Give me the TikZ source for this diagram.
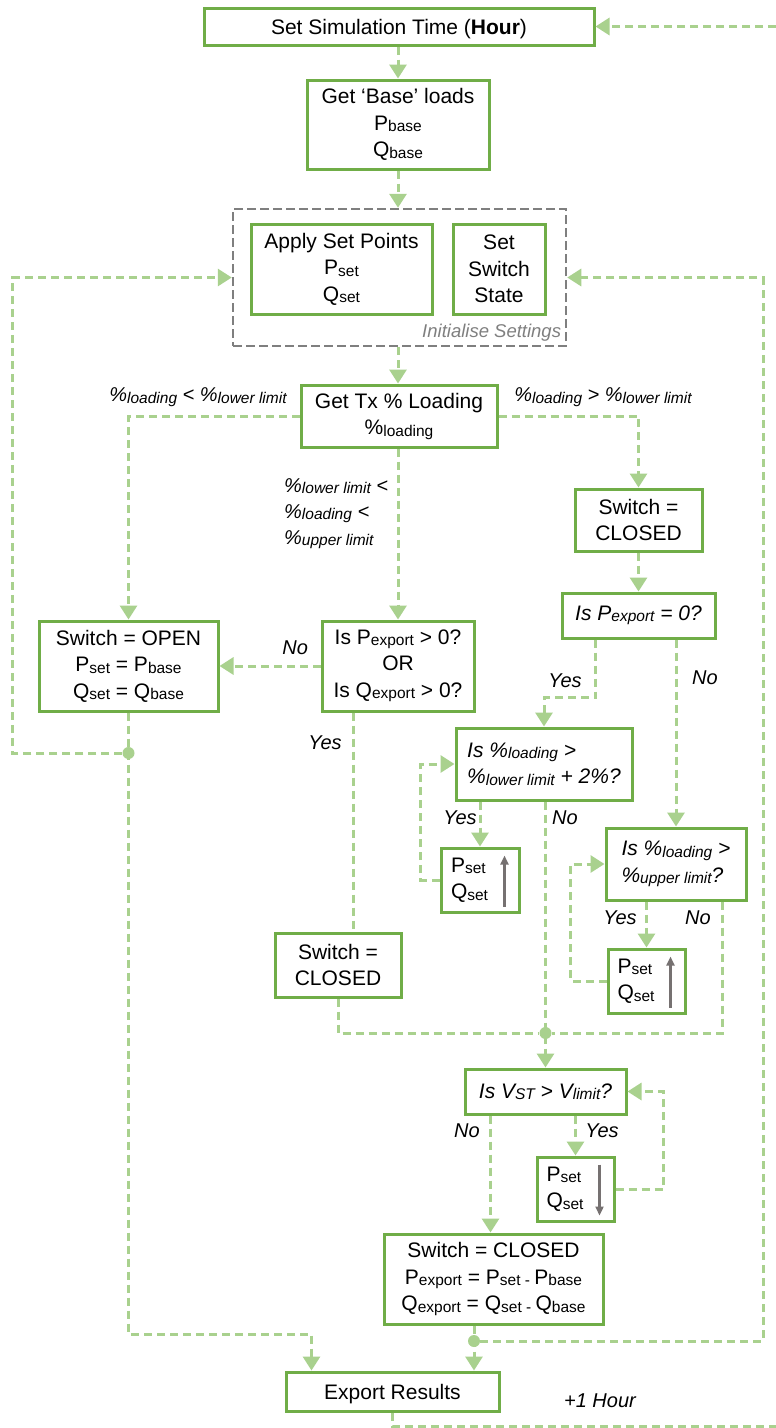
\documentclass[tikz,border=0pt]{standalone}
\usepackage{fontspec}
\setmainfont{Liberation Sans}
\usetikzlibrary{arrows.meta,positioning}

\definecolor{boxgreen}{HTML}{70AD47}
\definecolor{linegreen}{HTML}{A9D18E}
\definecolor{initgray}{HTML}{7F7F7F}
\definecolor{arrowgray}{HTML}{767171}

\newcommand{\lowtxt}[1]{\raisebox{-1.5pt}{\fontsize{15.5}{15.5}\selectfont #1}}

\begin{document}
\begin{tikzpicture}[x=1pt, y=-1pt,
  >={Triangle[length=14pt,width=17pt]},
  box/.style={draw=boxgreen, line width=3pt, fill=white, inner sep=0pt, align=center,
    font=\fontsize{21}{26.5}\selectfont},
  askbox/.style={box, font=\fontsize{21}{26.5}\selectfont\itshape},
  flowline/.style={draw=linegreen, line width=3pt, dash pattern=on 8pt off 5pt},
  flow/.style={flowline, ->},
  lbl/.style={font=\fontsize{20}{26}\selectfont\itshape, inner sep=0pt},
  updown/.style={draw=arrowgray, line width=2.2pt, -{Triangle[length=9pt,width=8pt]}},
  joint/.style={circle, fill=linegreen, inner sep=0pt, minimum size=12pt}]
\path[use as bounding box, fill=white] (0,0) rectangle (776,1428);

% Hour and base loads
\node[box, text height=15pt, text depth=0pt, minimum width=390pt, minimum height=37pt] (time) at (399,26.5) {Set Simulation Time (\textbf{Hour})};
\node[box, minimum width=182pt, minimum height=89pt] (base) at (398,124.5) {Get ‘Base’ loads\\P\lowtxt{base}\\Q\lowtxt{base}};

% Initialise settings
\node[draw=initgray, line width=2.5pt, dash pattern=on 9pt off 4pt, inner sep=0pt,
  minimum width=333pt, minimum height=137pt] (init) at (399.5,277.5) {};
\node[box, minimum width=181pt, minimum height=90pt] (apply) at (341.5,269) {Apply Set Points\\P\lowtxt{set}\\Q\lowtxt{set}};
\node[box, minimum width=92pt, minimum height=90pt] (state) at (499,269) {Set\\Switch\\State};
\node[font=\fontsize{18.5}{20}\selectfont\itshape, text=initgray, anchor=south east, inner sep=0pt]
  (initlbl) at ([xshift=-6pt,yshift=6pt]init.south east) {Initialise Settings};

% Transformer loading
\node[box, minimum width=196pt, minimum height=62pt] (loading) at (399,416) {Get Tx \% Loading\\\%\lowtxt{loading}};
\node[lbl] (lowlbl) at (198,397) {\%\lowtxt{loading} < \%\lowtxt{lower limit}};
\node[lbl] (highlbl) at (603,397) {\%\lowtxt{loading} > \%\lowtxt{lower limit}};
\node[lbl, align=left, anchor=north west] (midlbl) at (284,478) {\%\lowtxt{lower limit} <\\\%\lowtxt{loading} <\\\%\lowtxt{upper limit}};

% Left and middle branch
\node[box, minimum width=179pt, minimum height=90pt] (open) at (128.5,666) {Switch = OPEN\\P\lowtxt{set} = P\lowtxt{base}\\Q\lowtxt{set} = Q\lowtxt{base}};
\node[box, minimum width=152pt, minimum height=90pt] (isexp) at (398,666) {Is P\lowtxt{export} > 0?\\OR\\Is Q\lowtxt{export} > 0?};
\node[box, minimum width=126pt, minimum height=64pt] (closedL) at (338,965) {Switch =\\CLOSED};

% Right branch
\node[box, minimum width=127pt, minimum height=62pt] (closedR) at (638.5,520) {Switch =\\CLOSED};
\node[askbox, minimum width=153pt, minimum height=45pt] (iszero) at (638.5,615.5) {Is P\lowtxt{export} = 0?};
\node[askbox, align=left, minimum width=176pt, minimum height=72pt] (islower) at (544,764) {Is \%\lowtxt{loading} >\\\%\lowtxt{lower limit} + 2\%?};
\node[box, align=left, text width=58pt, minimum width=78pt, minimum height=64pt] (upA) at (480,880) {P\lowtxt{set}\\Q\lowtxt{set}};
\node[askbox, align=left, minimum width=140pt, minimum height=72pt] (isupper) at (676,864) {Is \%\lowtxt{loading} >\\\%\lowtxt{upper limit}?};
\node[box, align=left, text width=58pt, minimum width=77pt, minimum height=64pt] (upB) at (646.5,981) {P\lowtxt{set}\\Q\lowtxt{set}};
\draw[updown] ([xshift=-16pt,yshift=7pt]upA.south east) -- ([xshift=-16pt,yshift=-9pt]upA.north east);
\draw[updown] ([xshift=-16pt,yshift=7pt]upB.south east) -- ([xshift=-16pt,yshift=-9pt]upB.north east);

% Voltage check
\node[askbox, minimum width=161pt, minimum height=45pt] (isv) at (545.5,1091.5) {Is V\lowtxt{ST} > V\lowtxt{limit}?};
\node[box, align=left, text width=58pt, minimum width=77pt, minimum height=64pt] (down) at (575.5,1189) {P\lowtxt{set}\\Q\lowtxt{set}};
\draw[updown] ([xshift=-16pt,yshift=-9pt]down.north east) -- ([xshift=-16pt,yshift=7pt]down.south east);
\node[box, minimum width=219pt, minimum height=90pt] (final) at (493.5,1279) {Switch = CLOSED\\P\lowtxt{export} = P\lowtxt{set - }P\lowtxt{base}\\Q\lowtxt{export} = Q\lowtxt{set - }Q\lowtxt{base}};
\node[box, text height=15pt, text depth=0pt, minimum width=213pt, minimum height=39pt] (export) at (392.5,1391.5) {Export Results};

% Joints
\node[joint] (dotL) at (128.5,753) {};
\node[joint] (merge) at (545.5,1033) {};
\node[joint] (dotR) at (474,1341) {};
\coordinate (loopout) at (776,1426);
\coordinate (loopin) at (776,26.5);

% Main column
\draw[flow] (base.north |- time.south) -- (base.north);
\draw[flow] (base.south) -- (base.south |- init.north);
\draw[flow] (base.south |- init.south) -- (base.south |- loading.north);
\draw[flow] (loading.west) -| (open.north);
\draw[flow] (loading.east) -| (closedR.north);
\draw[flow] (base.south |- loading.south) -- (base.south |- isexp.north);
\draw[flow] (isexp.west) -- node[lbl, pos=0.25, above=10pt] (noA) {No} (open.east);
\draw[flowline] ([xshift=-45pt]isexp.south) -- ([xshift=-45pt]isexp.south |- closedL.north);
\node[lbl] (yesA) at (325,743) {Yes};

% Right column
\draw[flow] (closedR.south) -- (iszero.north);
\draw[flow] ([xshift=-43pt]iszero.south) -- ++(0,58) -| (islower.north);
\node[lbl] (yesB) at (565,681) {Yes};
\draw[flow] (isupper.north |- iszero.south) -- (isupper.north);
\node[lbl] (noB) at (705,678) {No};
\draw[flow] (upA.north |- islower.south) -- (upA.north);
\node[lbl] (yesC) at (460,818) {Yes};
\draw[flow] (upA.west) -- ++(-19,0) |- (islower.west);
\draw[flow] (isv.north |- islower.south) -- (isv.north);
\node[lbl] (noC) at (565,818) {No};
\draw[flow] (upB.north |- isupper.south) -- (upB.north);
\node[lbl] (yesD) at (620,918) {Yes};
\draw[flow] (upB.west) -- ++(-36,0) |- (isupper.west);
\draw[flowline] ([xshift=46pt]isupper.south) |- (merge);
\node[lbl] (noD) at (698,918) {No};
\draw[flowline] (closedL.south) |- (merge);

% Voltage loop
\draw[flow] ([xshift=-55pt]isv.south) -- ([xshift=-55pt]isv.south |- final.north);
\node[lbl] (noE) at (467,1131) {No};
\draw[flow] (down.north |- isv.south) -- (down.north);
\node[lbl] (yesE) at (602,1131) {Yes};
\draw[flow] (down.east) -- ++(48,0) |- (isv.east);

% Back to start
\draw[flow] (final.south -| dotR) -- (export.north -| dotR);
\draw[flow] (dotR) -- ++(289,0) |- (init.east);
\draw[flow] (open.south) -- (open.south |- 0,1334) -| ([xshift=-81pt]export.north);
\draw[flow] (dotL) -- ++(-116,0) |- (init.west);
\draw[flowline] (export.south) |- (loopout);
\node[lbl] (hourlbl) at (600,1401) {+1 Hour};
\draw[flow] (loopin) -- (time.east);
\end{tikzpicture}
\end{document}
